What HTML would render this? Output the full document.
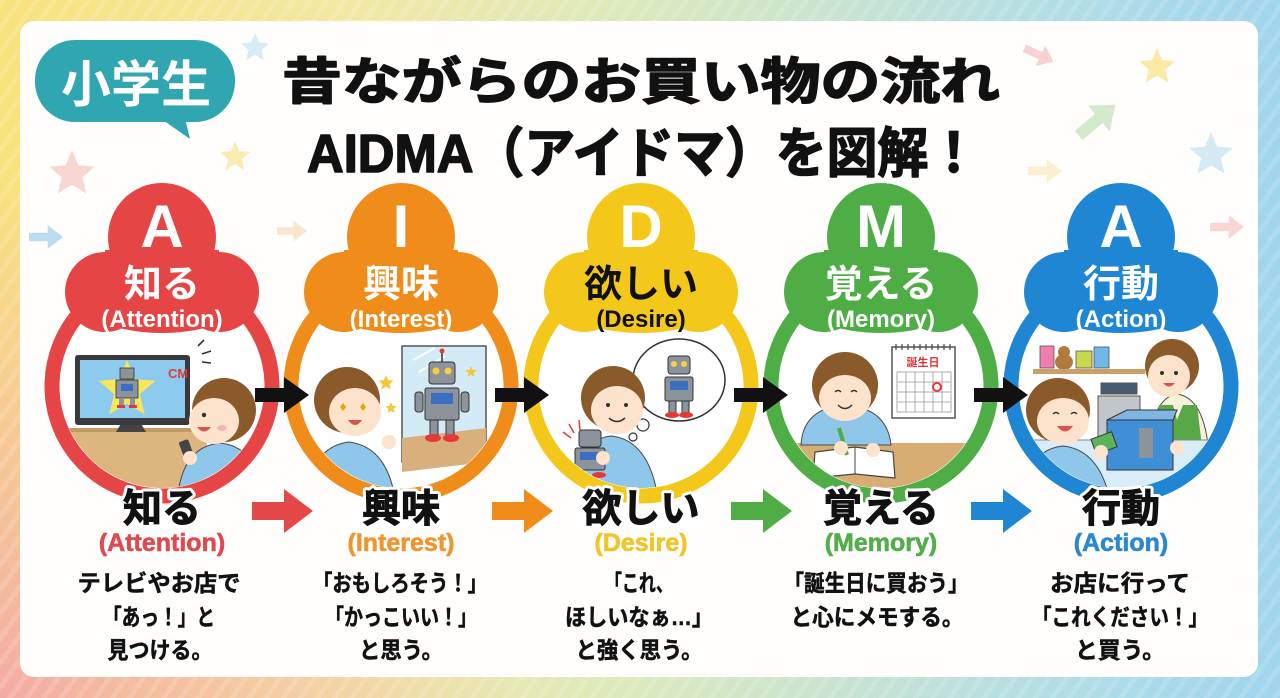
<!DOCTYPE html>
<html lang="ja">
<head>
<meta charset="utf-8">
<style>
  html,body{margin:0;padding:0;width:1280px;height:698px;overflow:hidden;background:#fff;}
  svg{display:block;}
  text{font-family:"Liberation Sans","Noto Sans CJK JP",sans-serif;font-weight:bold;}
  .lbl{paint-order:stroke;stroke:#fff;stroke-width:7;stroke-linejoin:round;}
  .heavy{stroke:#111;stroke-width:1.6;stroke-linejoin:round;}
  .desc text{stroke:#111;stroke-width:0.5;}
</style>
</head>
<body>
<svg width="1280" height="698" viewBox="0 0 1280 698" xmlns="http://www.w3.org/2000/svg">
  <defs>
    <linearGradient id="bg" x1="0" y1="0" x2="1" y2="0">
      <stop offset="0" stop-color="#f8e27c"/>
      <stop offset="0.28" stop-color="#f1e8a4"/>
      <stop offset="0.5" stop-color="#dbe9bd"/>
      <stop offset="0.72" stop-color="#bfe1d9"/>
      <stop offset="0.88" stop-color="#acdbea"/>
      <stop offset="1" stop-color="#a0d5ec"/>
    </linearGradient>
    <radialGradient id="pink" cx="0" cy="698" r="520" gradientUnits="userSpaceOnUse">
      <stop offset="0" stop-color="#f3a8a6" stop-opacity="0.95"/>
      <stop offset="0.6" stop-color="#f5b9a8" stop-opacity="0.5"/>
      <stop offset="1" stop-color="#f5c0a8" stop-opacity="0"/>
    </radialGradient>
    <pattern id="stripes" width="14" height="14" patternUnits="userSpaceOnUse" patternTransform="rotate(35)">
      <rect width="5" height="14" fill="#ffffff" opacity="0.35"/>
    </pattern>
    <clipPath id="inner"><circle cx="0" cy="386" r="102"/></clipPath>
    <polygon id="st" points="0,-1 0.265,-0.364 0.951,-0.309 0.428,0.139 0.588,0.809 0,0.45 -0.588,0.809 -0.428,0.139 -0.951,-0.309 -0.265,-0.364"/>
    <path id="ar" d="M-1,-0.25 H0.1 V-0.7 L1,0 L0.1,0.7 V0.25 H-1 Z"/>
  </defs>

  <!-- background -->
  <rect width="1280" height="698" fill="url(#bg)"/>
  <rect width="1280" height="698" fill="url(#pink)"/>
  <rect x="0" y="0" width="1280" height="698" fill="url(#stripes)" opacity="0.4"/>

  <!-- card -->
  <rect x="20" y="21" width="1238" height="656" rx="14" fill="#fffefc"/>

  <!-- decorations -->
  <use href="#st" transform="translate(255,48) scale(15)" fill="#d6ecf6"/>
  <use href="#st" transform="translate(72,174) scale(24)" fill="#f8d6d2"/>
  <use href="#st" transform="translate(235,157) scale(16)" fill="#fbecb4"/>
  <use href="#ar" transform="translate(46,237) scale(17)" fill="#bcdcf1"/>
  <use href="#ar" transform="translate(292,231) scale(15)" fill="#fbe6cc"/>
  <use href="#ar" transform="translate(1039,55) rotate(25) scale(16)" fill="#f7d2d0"/>
  <use href="#st" transform="translate(1157,67) scale(19)" fill="#fde9a6"/>
  <use href="#ar" transform="translate(1097,120) rotate(-40) scale(24)" fill="#d3eacc"/>
  <use href="#st" transform="translate(1211,155) scale(23)" fill="#d6eaf6"/>
  <use href="#ar" transform="translate(1045,171) scale(17)" fill="#fcefd0"/>
  <use href="#ar" transform="translate(1227,227) scale(17)" fill="#f8d6d4"/>

  <!-- badge -->
  <path d="M160,118 L190,139 L185,118 Z" fill="#30a7b0"/>
  <rect x="35" y="40" width="200" height="82" rx="40" fill="#30a7b0"/>
  <text x="136" y="102" font-size="50" fill="#ffffff" text-anchor="middle">小学生</text>

  <!-- title -->
  <text class="heavy" x="282" y="99" font-size="50" fill="#111" textLength="718" lengthAdjust="spacingAndGlyphs">昔ながらのお買い物の流れ</text>
  <text class="heavy" x="307" y="172" font-size="54" fill="#111" textLength="672" lengthAdjust="spacingAndGlyphs">AIDMA（アイドマ）を図解！</text>

  <!-- ================= COLUMN 1 (red) ================= -->
  <g transform="translate(162,0)">
    <circle cx="0" cy="386" r="110" fill="#fff" stroke="#e64545" stroke-width="15"/>
    <g fill="#e64545">
      <circle cx="0" cy="237" r="54"/>
      <circle cx="-57" cy="292" r="40"/>
      <circle cx="57" cy="292" r="40"/>
      <ellipse cx="0" cy="300" rx="80" ry="33"/>
      <rect x="-57" y="250" width="114" height="60"/>
    </g>
    <text x="0" y="247" font-size="60" fill="#fff" text-anchor="middle">A</text>
    <text x="0" y="297" font-size="38" fill="#fff" text-anchor="middle">知る</text>
    <text x="0" y="327" font-size="24" fill="#fff" text-anchor="middle">(Attention)</text>
    <g clip-path="url(#inner)">
      <rect x="-105" y="428" width="150" height="80" fill="#dcb57f"/>
      <rect x="-105" y="428" width="150" height="4" fill="#c39a63"/>
      <path d="M-46,432 L-40,422 L-22,422 L-16,432 Z" fill="#444"/>
      <rect x="-87" y="355" width="115" height="70" rx="3" fill="#3a3a3c"/>
      <rect x="-82" y="360" width="105" height="58" fill="#8ccbed"/>
      <use href="#st" transform="translate(-35,390) scale(30)" fill="#f7e65c"/>
      <rect x="-42" y="368" width="14" height="11" fill="#8d939a" stroke="#333" stroke-width="0.8"/>
      <rect x="-46" y="380" width="22" height="18" fill="#8d939a" stroke="#333" stroke-width="0.8"/>
      <rect x="-41" y="384" width="12" height="7" fill="#3c6fc4"/>
      <rect x="-43" y="398" width="5" height="8" fill="#8d939a"/>
      <rect x="-32" y="398" width="5" height="8" fill="#8d939a"/>
      <rect x="-45" y="405" width="8" height="3" fill="#e53935"/>
      <rect x="-33" y="405" width="8" height="3" fill="#e53935"/>
      <text x="6" y="378" font-size="13" fill="#e53935">CM</text>
      <path d="M36,346 l6,-6 M40,354 l9,-3 M40,362 l9,1" stroke="#333" stroke-width="1.6" fill="none"/>
      <path d="M15,505 Q18,447 58,443 Q98,447 104,505 Z" fill="#8fc7ea" stroke="#4a4a4a" stroke-width="1"/>
      <circle cx="62" cy="410" r="32" fill="#8b5a2b"/>
      <ellipse cx="52" cy="421" rx="25" ry="23" fill="#fde2cc"/>
      <circle cx="42" cy="415" r="2.2" fill="#333"/>
      <path d="M35,427 q7,9 14,0 z" fill="#d9534f"/>
      <ellipse cx="60" cy="428" rx="5" ry="3" fill="#f7b6b6"/>
      <rect x="20" y="440" width="10" height="22" rx="2" fill="#444" transform="rotate(-20 25 451)"/>
      <circle cx="28" cy="458" r="7" fill="#fde2cc"/>
    </g>
  </g>

  <!-- ================= COLUMN 2 (orange) ================= -->
  <g transform="translate(401,0)">
    <circle cx="0" cy="386" r="110" fill="#fff" stroke="#f08c1a" stroke-width="15"/>
    <g fill="#f08c1a">
      <circle cx="0" cy="237" r="54"/>
      <circle cx="-57" cy="292" r="40"/>
      <circle cx="57" cy="292" r="40"/>
      <ellipse cx="0" cy="300" rx="80" ry="33"/>
      <rect x="-57" y="250" width="114" height="60"/>
    </g>
    <text x="0" y="247" font-size="60" fill="#fff" text-anchor="middle">I</text>
    <text x="0" y="297" font-size="38" fill="#fff" text-anchor="middle">興味</text>
    <text x="0" y="327" font-size="24" fill="#fff" text-anchor="middle">(Interest)</text>
    <g clip-path="url(#inner)">
      <rect x="1" y="346" width="84" height="116" fill="#d3ebf7" stroke="#555" stroke-width="1.5"/>
      <path d="M1,438 L85,428 L85,462 L1,472 Z" fill="#d9b07b"/>
      <path d="M12,360 l22,-12 M18,372 l26,-16" stroke="#fff" stroke-width="2"/>
      <line x1="41" y1="352" x2="41" y2="362" stroke="#333" stroke-width="1.5"/>
      <circle cx="41" cy="351" r="2.5" fill="#e53935"/>
      <rect x="28" y="362" width="26" height="22" rx="3" fill="#8d939a" stroke="#333"/>
      <circle cx="35" cy="371" r="3.5" fill="#f5d23a"/>
      <circle cx="47" cy="371" r="3.5" fill="#f5d23a"/>
      <rect x="24" y="388" width="34" height="32" rx="2" fill="#8d939a" stroke="#333"/>
      <rect x="30" y="393" width="22" height="11" fill="#3c6fc4"/>
      <rect x="14" y="392" width="8" height="20" rx="3" fill="#8d939a" stroke="#333"/>
      <rect x="60" y="392" width="8" height="20" rx="3" fill="#8d939a" stroke="#333"/>
      <rect x="29" y="420" width="8" height="16" fill="#8d939a" stroke="#333"/>
      <rect x="45" y="420" width="8" height="16" fill="#8d939a" stroke="#333"/>
      <ellipse cx="32" cy="438" rx="8" ry="4" fill="#e53935"/>
      <ellipse cx="50" cy="438" rx="8" ry="4" fill="#e53935"/>
      <use href="#st" transform="translate(-15,383) scale(8)" fill="#f5c53a"/>
      <use href="#st" transform="translate(-10,408) scale(6)" fill="#f5c53a"/>
      <use href="#st" transform="translate(70,372) scale(6)" fill="#f5c53a"/>
      <path d="M-95,505 Q-92,447 -52,442 Q-12,447 -5,505 Z" fill="#8fc7ea" stroke="#4a4a4a" stroke-width="1"/>
      <circle cx="-54" cy="400" r="33" fill="#8b5a2b"/>
      <ellipse cx="-46" cy="412" rx="26" ry="24" fill="#fde2cc"/>
      <path d="M-58,403 l3,4 l-3,4 l-3,-4z M-38,403 l3,4 l-3,4 l-3,-4z" fill="#e0a800"/>
      <path d="M-53,420 q7,10 14,0 z" fill="#d9534f"/>
      <circle cx="-12" cy="442" r="7" fill="#fde2cc"/>
      <circle cx="-80" cy="462" r="7" fill="#fde2cc"/>
    </g>
  </g>

  <!-- ================= COLUMN 3 (yellow) ================= -->
  <g transform="translate(641,0)">
    <circle cx="0" cy="386" r="110" fill="#fff" stroke="#f4c81a" stroke-width="15"/>
    <g fill="#f4c81a">
      <circle cx="0" cy="237" r="54"/>
      <circle cx="-57" cy="292" r="40"/>
      <circle cx="57" cy="292" r="40"/>
      <ellipse cx="0" cy="300" rx="80" ry="33"/>
      <rect x="-57" y="250" width="114" height="60"/>
    </g>
    <text x="0" y="247" font-size="60" fill="#fff" text-anchor="middle">D</text>
    <text x="0" y="297" font-size="38" fill="#111" text-anchor="middle">欲しい</text>
    <text x="0" y="327" font-size="24" fill="#111" text-anchor="middle">(Desire)</text>
    <g clip-path="url(#inner)">
      <ellipse cx="38" cy="380" rx="46" ry="41" fill="#fff" stroke="#333" stroke-width="1.5"/>
      <circle cx="2" cy="425" r="6" fill="#fff" stroke="#333" stroke-width="1.2"/>
      <circle cx="-8" cy="437" r="4" fill="#fff" stroke="#333" stroke-width="1.2"/>
      <rect x="27" y="356" width="22" height="18" rx="3" fill="#8d939a" stroke="#333"/>
      <circle cx="33" cy="364" r="3" fill="#f5d23a"/>
      <circle cx="43" cy="364" r="3" fill="#f5d23a"/>
      <rect x="24" y="377" width="28" height="24" rx="2" fill="#8d939a" stroke="#333"/>
      <rect x="29" y="381" width="18" height="9" fill="#3c6fc4"/>
      <rect x="28" y="401" width="7" height="12" fill="#8d939a" stroke="#333"/>
      <rect x="41" y="401" width="7" height="12" fill="#8d939a" stroke="#333"/>
      <ellipse cx="31" cy="415" rx="7" ry="3" fill="#e53935"/>
      <ellipse cx="45" cy="415" rx="7" ry="3" fill="#e53935"/>
      <path d="M-72,505 Q-68,440 -30,436 Q10,440 18,505 Z" fill="#8fc7ea" stroke="#4a4a4a" stroke-width="1"/>
      <circle cx="-28" cy="398" r="32" fill="#8b5a2b"/>
      <ellipse cx="-24" cy="410" rx="26" ry="24" fill="#fde2cc"/>
      <circle cx="-33" cy="405" r="2" fill="#333"/>
      <circle cx="-15" cy="405" r="2" fill="#333"/>
      <path d="M-32,418 q8,7 16,0" stroke="#333" stroke-width="1.5" fill="none"/>
      <rect x="-62" y="430" width="22" height="17" rx="3" fill="#8d939a" stroke="#333"/>
      <rect x="-66" y="448" width="30" height="22" rx="2" fill="#8d939a" stroke="#333"/>
      <rect x="-61" y="452" width="18" height="8" fill="#3c6fc4"/>
      <ellipse cx="-58" cy="475" rx="7" ry="3" fill="#e53935"/>
      <ellipse cx="-42" cy="475" rx="7" ry="3" fill="#e53935"/>
      <circle cx="-38" cy="458" r="7" fill="#fde2cc"/>
      <path d="M-78,432 l8,6 M-72,424 l5,9 M-62,420 l1,10" stroke="#e53935" stroke-width="1.5"/>
    </g>
  </g>

  <!-- ================= COLUMN 4 (green) ================= -->
  <g transform="translate(881,0)">
    <circle cx="0" cy="386" r="110" fill="#fff" stroke="#4eae45" stroke-width="15"/>
    <g fill="#4eae45">
      <circle cx="0" cy="237" r="54"/>
      <circle cx="-57" cy="292" r="40"/>
      <circle cx="57" cy="292" r="40"/>
      <ellipse cx="0" cy="300" rx="80" ry="33"/>
      <rect x="-57" y="250" width="114" height="60"/>
    </g>
    <text x="0" y="247" font-size="60" fill="#fff" text-anchor="middle">M</text>
    <text x="0" y="297" font-size="38" fill="#fff" text-anchor="middle">覚える</text>
    <text x="0" y="327" font-size="24" fill="#fff" text-anchor="middle">(Memory)</text>
    <g clip-path="url(#inner)">
      <rect x="11" y="347" width="63" height="71" fill="#fff" stroke="#555" stroke-width="1.5"/>
      <path d="M15,344 v6 M21,344 v6 M27,344 v6 M33,344 v6 M39,344 v6 M45,344 v6 M51,344 v6 M57,344 v6 M63,344 v6 M69,344 v6" stroke="#444" stroke-width="1.2"/>
      <text x="42" y="366" font-size="11" fill="#d33" text-anchor="middle">誕生日</text>
      <g stroke="#999" stroke-width="0.8" fill="none">
        <rect x="16" y="372" width="54" height="40"/>
        <path d="M16,382 h54 M16,392 h54 M16,402 h54 M25,372 v40 M34,372 v40 M43,372 v40 M52,372 v40 M61,372 v40"/>
      </g>
      <circle cx="56" cy="387" r="4" fill="none" stroke="#e53935" stroke-width="2"/>
      <rect x="-105" y="443" width="210" height="70" fill="#d7ad74"/>
      <path d="M-80,445 Q-78,408 -36,405 Q6,408 10,445 Z" fill="#8fc7ea" stroke="#4a4a4a" stroke-width="1"/>
      <circle cx="-36" cy="385" r="33" fill="#8b5a2b"/>
      <ellipse cx="-36" cy="398" rx="26" ry="23" fill="#fde2cc"/>
      <path d="M-46,392 q3,-3 6,0 M-30,392 q3,-3 6,0" stroke="#333" stroke-width="1.5" fill="none"/>
      <path d="M-43,405 q7,7 14,0" stroke="#333" stroke-width="1.5" fill="none"/>
      <path d="M-66,452 L-26,447 L12,452 L14,478 L-26,474 L-68,478 Z" fill="#fff" stroke="#444" stroke-width="1.2"/>
      <line x1="-26" y1="447" x2="-26" y2="474" stroke="#444" stroke-width="1"/>
      <line x1="-42" y1="428" x2="-34" y2="455" stroke="#4eae45" stroke-width="4"/>
      <circle cx="-40" cy="448" r="7" fill="#fde2cc"/>
      <circle cx="-8" cy="450" r="7" fill="#fde2cc"/>
    </g>
  </g>

  <!-- ================= COLUMN 5 (blue) ================= -->
  <g transform="translate(1121,0)">
    <circle cx="0" cy="386" r="110" fill="#fff" stroke="#1f86d4" stroke-width="15"/>
    <g fill="#1f86d4">
      <circle cx="0" cy="237" r="54"/>
      <circle cx="-57" cy="292" r="40"/>
      <circle cx="57" cy="292" r="40"/>
      <ellipse cx="0" cy="300" rx="80" ry="33"/>
      <rect x="-57" y="250" width="114" height="60"/>
    </g>
    <text x="0" y="247" font-size="60" fill="#fff" text-anchor="middle">A</text>
    <text x="0" y="297" font-size="38" fill="#fff" text-anchor="middle">行動</text>
    <text x="0" y="327" font-size="24" fill="#fff" text-anchor="middle">(Action)</text>
    <g clip-path="url(#inner)">
      <rect x="-81" y="346" width="14" height="22" fill="#f07fb0" stroke="#555" stroke-width="0.8"/>
      <circle cx="-57" cy="352" r="6" fill="#b07a3e"/>
      <ellipse cx="-57" cy="362" rx="9" ry="8" fill="#b07a3e"/>
      <rect x="-45" y="351" width="16" height="17" fill="#c8d850" stroke="#555" stroke-width="0.8"/>
      <rect x="-27" y="347" width="15" height="21" fill="#6fb8e8" stroke="#555" stroke-width="0.8"/>
      <rect x="-88" y="369" width="112" height="5" fill="#c9a06a"/>
      <rect x="-20" y="383" width="36" height="11" fill="#4a5a70" stroke="#555"/>
      <rect x="-23" y="396" width="42" height="44" fill="#c2c6ca" stroke="#555"/>
      <path d="M28,455 Q30,398 56,394 Q84,398 88,455 Z" fill="#f6f1d8" stroke="#4a4a4a" stroke-width="1"/>
      <path d="M34,455 L38,405 L52,405 L56,420 L62,405 L76,405 L82,455 Z" fill="#58a84a"/>
      <circle cx="51" cy="366" r="27" fill="#8b5a2b"/>
      <ellipse cx="48" cy="376" rx="21" ry="21" fill="#fde2cc"/>
      <circle cx="41" cy="373" r="2" fill="#333"/>
      <circle cx="55" cy="373" r="2" fill="#333"/>
      <path d="M42,383 q6,7 12,0 z" fill="#d9534f"/>
      <rect x="-100" y="440" width="200" height="70" fill="#d8edf7" stroke="#888" stroke-width="1"/>
      <path d="M-14,420 L6,410 L56,410 L52,420 Z" fill="#7fb6e6" stroke="#333" stroke-width="1"/>
      <rect x="-14" y="420" width="66" height="50" fill="#3e8fd6" stroke="#333" stroke-width="1"/>
      <rect x="18" y="428" width="14" height="30" fill="#8d939a"/>
      <rect x="-28" y="435" width="22" height="16" fill="#5bb35a" stroke="#333" stroke-width="1" transform="rotate(-20 -17 443)"/>
      <path d="M-100,505 Q-96,450 -58,446 Q-20,450 -10,505 Z" fill="#8fc7ea" stroke="#4a4a4a" stroke-width="1"/>
      <circle cx="-63" cy="410" r="32" fill="#8b5a2b"/>
      <ellipse cx="-58" cy="421" rx="26" ry="23" fill="#fde2cc"/>
      <path d="M-68,414 q3,-3 6,0 M-50,414 q3,-3 6,0" stroke="#333" stroke-width="1.5" fill="none"/>
      <path d="M-64,426 q8,11 16,0 z" fill="#d9534f"/>
      <circle cx="-20" cy="452" r="7" fill="#fde2cc"/>
      <circle cx="56" cy="448" r="7" fill="#fde2cc"/>
    </g>
  </g>

  <!-- black arrows between rings -->
  <g fill="#111">
    <path d="M255,388 H284 V377 L309,395 L284,413 V402 H255 Z"/>
    <path d="M495,388 H524 V377 L549,395 L524,413 V402 H495 Z"/>
    <path d="M734,388 H763 V377 L788,395 L763,413 V402 H734 Z"/>
    <path d="M974,388 H1003 V377 L1028,395 L1003,413 V402 H974 Z"/>
  </g>

  <!-- colored arrows between labels -->
  <path d="M252,502 H284 V489 L313,511 L284,533 V520 H252 Z" fill="#e54848"/>
  <path d="M492,502 H524 V489 L553,511 L524,533 V520 H492 Z" fill="#f08c1a"/>
  <path d="M731,502 H763 V489 L792,511 L763,533 V520 H731 Z" fill="#4eae45"/>
  <path d="M971,502 H1003 V489 L1032,511 L1003,533 V520 H971 Z" fill="#1f86d4"/>

  <!-- bottom labels -->
  <g font-size="39" fill="#111" text-anchor="middle">
    <text class="lbl" x="162" y="522">知る</text>
    <text class="lbl" x="401" y="522">興味</text>
    <text class="lbl" x="641" y="522">欲しい</text>
    <text class="lbl" x="881" y="522">覚える</text>
    <text class="lbl" x="1121" y="522">行動</text>
  </g>
  <g font-size="39" fill="#111" text-anchor="middle" stroke="#111" stroke-width="1">
    <text x="162" y="522">知る</text>
    <text x="401" y="522">興味</text>
    <text x="641" y="522">欲しい</text>
    <text x="881" y="522">覚える</text>
    <text x="1121" y="522">行動</text>
  </g>
  <g font-size="25" text-anchor="middle" stroke-width="0.6">
    <text x="162" y="551" fill="#de4a4f" stroke="#de4a4f">(Attention)</text>
    <text x="401" y="551" fill="#ee9530" stroke="#ee9530">(Interest)</text>
    <text x="641" y="551" fill="#f0c52a" stroke="#f0c52a">(Desire)</text>
    <text x="881" y="551" fill="#52ad4c" stroke="#52ad4c">(Memory)</text>
    <text x="1121" y="551" fill="#2a88d0" stroke="#2a88d0">(Action)</text>
  </g>

  <!-- descriptions -->
  <g class="desc" font-size="23" fill="#111" text-anchor="middle">
    <text x="159" y="591" textLength="163" lengthAdjust="spacingAndGlyphs">テレビやお店で</text>
    <text x="159" y="625" textLength="112" lengthAdjust="spacingAndGlyphs">「あっ！」と</text>
    <text x="160" y="658" textLength="105" lengthAdjust="spacingAndGlyphs">見つける。</text>

    <text x="400" y="591" textLength="174" lengthAdjust="spacingAndGlyphs">「おもしろそう！」</text>
    <text x="401" y="625" textLength="152" lengthAdjust="spacingAndGlyphs">「かっこいい！」</text>
    <text x="401" y="658" textLength="84" lengthAdjust="spacingAndGlyphs">と思う。</text>

    <text x="639" y="591" textLength="68" lengthAdjust="spacingAndGlyphs">「これ、</text>
    <text x="639" y="625" textLength="148" lengthAdjust="spacingAndGlyphs">ほしいなぁ…」</text>
    <text x="639" y="658" textLength="127" lengthAdjust="spacingAndGlyphs">と強く思う。</text>

    <text x="876" y="591" textLength="185" lengthAdjust="spacingAndGlyphs">「誕生日に買おう」</text>
    <text x="877" y="625" textLength="173" lengthAdjust="spacingAndGlyphs">と心にメモする。</text>

    <text x="1120" y="591" textLength="140" lengthAdjust="spacingAndGlyphs">お店に行って</text>
    <text x="1120" y="625" textLength="176" lengthAdjust="spacingAndGlyphs">「これください！」</text>
    <text x="1120" y="658" textLength="90" lengthAdjust="spacingAndGlyphs">と買う。</text>
  </g>
</svg>
</body>
</html>
